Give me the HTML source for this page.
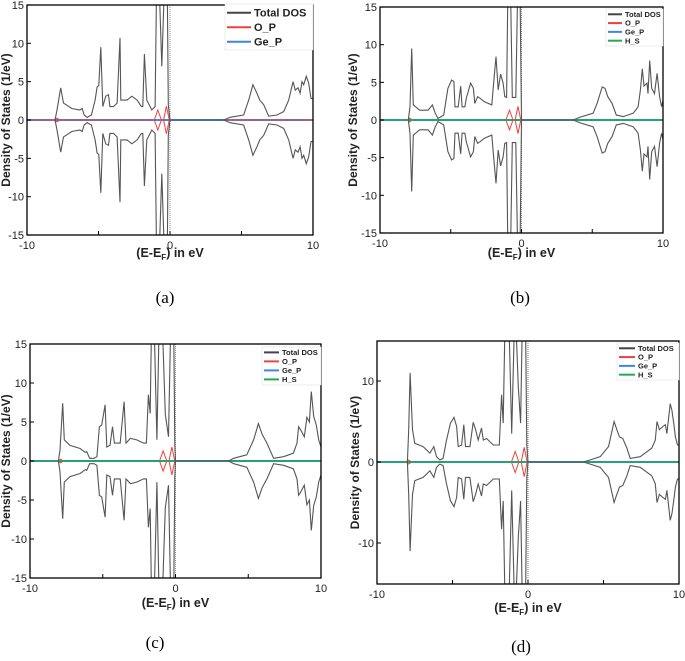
<!DOCTYPE html>
<html><head><meta charset="utf-8"><style>
body{margin:0;background:#fff;}
svg{display:block;font-family:"Liberation Sans",sans-serif;}
</style></head><body>
<svg id="fig" width="685" height="661" viewBox="0 0 685 661"></svg>
<script>
// ---- data (energy in eV, DOS in states/eV; spin-down mirrored) ----
const aE=[-8.04,-7.9,-7.64,-7.45,-6.87,-6.3,-6.15,-6.0,-5.8,-5.5,-5.24,-5.1,-4.98,-4.84,-4.7,-4.5,-4.3,-4.2,-3.95,-3.7,-3.5,-3.44,-3.0,-2.67,-2.3,-2.0,-1.9,-1.79,-1.62,-1.27,-1.04,-0.92,-0.8,-0.57,-0.35,-0.2,-0.12,0,3.75,4.2,5.15,5.5,5.8,6.08,6.27,6.55,6.9,7.48,7.95,8.3,8.6,8.76,8.95,9.1,9.23,9.35,9.53,9.7,9.86,10];
const aD=[0,1.3,4.2,2.2,1.5,1.3,1.5,0.65,0.35,0.65,2.6,4.3,4.5,9.5,1.75,3.1,3.3,1.75,1.75,2.2,10.7,2.6,2.6,3.1,2.6,1.75,1.75,8.6,2.6,1.3,1.75,20,20,7,20,20,2,0,0,0.35,0.65,2.6,4.6,3.5,2.6,2,0.5,0.65,1.1,2.6,5.0,3.9,4.2,3.5,5.0,4.6,5.7,4.8,2.8,2.8];
const bE=[-8,-7.88,-7.76,-7.65,-7.2,-6.6,-6.3,-6.1,-5.9,-5.5,-5.2,-4.94,-4.78,-4.7,-4.47,-4.3,-4.2,-4.0,-3.9,-3.6,-3.4,-3.3,-3.1,-2.94,-2.6,-2.1,-1.95,-1.8,-1.65,-1.48,-1.3,-1.18,-1.05,-0.95,-0.8,-0.65,-0.4,-0.25,-0.12,0,3.65,4.1,5.06,5.34,5.7,5.9,6.1,6.4,6.7,7.2,7.9,8.24,8.4,8.54,8.66,8.87,8.94,9.06,9.2,9.4,9.58,9.76,9.9,10];
const bD=[0,1.75,9.5,2,1.3,1.3,2,0.9,0.2,0.65,4.2,5.3,5.1,1.75,1.75,4.5,1.75,1.75,2.9,4.9,4.2,2.2,3.1,2.9,2.4,2,5.3,8.4,4,6.1,4.9,3.1,3,20,20,3,3,20,20,0,0,0.35,0.9,2.2,4.4,4.2,3.1,2.2,0.65,0.45,0.9,1.75,4.0,6.8,4.5,4.9,3.5,7.9,4.2,3.5,6.2,3.1,1.75,2.6];
const cE=[-8.05,-7.94,-7.75,-7.64,-7.25,-6.56,-6.2,-6.1,-5.9,-5.6,-5.4,-5.23,-5.07,-4.84,-4.72,-4.5,-4.33,-4.2,-3.8,-3.53,-3.4,-3.1,-2.66,-2.2,-2.0,-1.86,-1.74,-1.63,-1.5,-1.28,-1.1,-0.95,-0.7,-0.48,-0.3,-0.14,-0.05,0,3.65,4.0,4.9,5.37,5.7,5.94,6.1,6.28,6.74,7.43,8.1,8.35,8.46,8.6,8.85,9.03,9.2,9.33,9.5,9.68,9.84,10];
const cD=[0,1.4,7.4,2.7,2,1.6,1.1,1.2,0.35,0.35,0.55,4.4,4.6,7.2,1.8,2,4.4,2.3,2.3,7.6,2.3,2.9,2.7,2.3,2.3,8.5,6.1,20,20,2.7,20,20,6,3.1,20,20,2,0,0,0.35,0.8,2.7,4.8,3.5,2.9,2.3,0.35,0.55,1,2.3,4.4,4,3.1,5.6,5,8.9,5.7,4.6,2.7,1.8];
const dE=[-7.99,-7.9,-7.81,-7.65,-7.5,-6.95,-6.5,-6.24,-6.06,-5.84,-5.62,-5.4,-5.13,-4.9,-4.73,-4.62,-4.4,-4.25,-4.14,-3.85,-3.63,-3.47,-3.3,-3.08,-2.96,-2.74,-2.3,-1.9,-1.75,-1.64,-1.5,-1.3,-1.08,-0.86,-0.64,-0.49,-0.35,-0.18,-0.08,0,3.67,4.1,4.78,5.33,5.7,5.88,6.06,6.28,6.55,6.77,7.43,8.2,8.43,8.54,8.7,8.94,9.1,9.2,9.42,9.53,9.65,9.76,9.9,10];
const dD=[0,4,11,4,2.3,1.9,1.1,1.9,0.65,0.25,0.45,2.7,4.8,5.5,4.4,1.9,2.1,4.6,1.9,1.9,4.9,4,2.7,4.2,2.7,2.9,2.1,2.1,8.3,4.8,20,20,3.5,20,9.3,4.8,20,20,2,0,0,0.25,0.65,1.9,5,4,3.1,2.9,1.7,0.45,0.65,1.7,2.7,5,4,4.4,4.6,3.5,7.2,6.4,4.8,3.1,2.1,2.1];
const opE=[-10,-8.1,-7.9,-7.7,-1.1,-0.85,-0.6,-0.45,-0.25,-0.05,10];
const opD=[0,0,0.25,0,0,1.3,0,0,1.8,0,0];
const yTicksA=[15,10,5,0,-5,-10,-15];
const yTicksD=[10,0,-10];
const xTicks=[-10,0,10];
const legendA=["Total DOS","O_P","Ge_P"];
const legendB=["Total DOS","O_P","Ge_P","H_S"];

const NS="http://www.w3.org/2000/svg";
const svg=document.getElementById('fig');
function mk(tag,attrs,parent){const e=document.createElementNS(NS,tag);for(const k in attrs)e.setAttribute(k,attrs[k]);(parent||svg).appendChild(e);return e;}
const colors=["#444","#f04040","#3a86e8","#22aa55"];

function panel(id,cfg,E,D,yticks,legend){
  const g=mk('g',{});
  
  
  const X=v=>cfg.l+(v+10)/20*(cfg.r-cfg.l);
  const Y=v=>cfg.y0-v*cfg.s;
  const cp=mk('clipPath',{id:'cp'+id},g);
  mk('rect',{x:cfg.l,y:cfg.t,width:cfg.r-cfg.l,height:cfg.b-cfg.t},cp);
  const plot=mk('g',{'clip-path':'url(#cp'+id+')'},g);
  const fl=mk('line',{x1:X(0),x2:X(0),y1:cfg.t,y2:cfg.b,stroke:'#888','stroke-dasharray':'1,1','stroke-width':1},plot);
  
  
  const path=(xs,ys,sgn)=>xs.map((e,i)=>(i?'L':'M')+X(e).toFixed(1)+','+Y(sgn*ys[i]).toFixed(1)).join('');
  const ge=mk('line',{x1:cfg.l,x2:cfg.r,y1:Y(0),y2:Y(0),stroke:colors[2],'stroke-width':2},plot);
  
  
  [1,-1].forEach(sg=>{
    const p=mk('path',{d:path(opE,opD,sg),fill:'none',stroke:colors[1],'stroke-width':1},plot);
    
    
  });
  if(legend.length>3){
    const h=mk('line',{x1:cfg.l,x2:cfg.r,y1:Y(0),y2:Y(0),stroke:colors[3],'stroke-width':1.5},plot);
    
    
  }
  [1,-1].forEach(sg=>{
    const p=mk('path',{d:path(E,D,sg),fill:'none',stroke:'#555','stroke-width':1.1},plot);
    
    
  });
  const fr=mk('rect',{x:cfg.l,y:cfg.t,width:cfg.r-cfg.l,height:cfg.b-cfg.t,fill:'none',stroke:'#000','stroke-width':1.3},g);
  
  
  yticks.forEach(v=>{
    mk('line',{x1:cfg.l,x2:cfg.l+4,y1:Y(v),y2:Y(v),stroke:'#000'},g);
    const t=mk('text',{x:cfg.l-3,y:Y(v)+4,'text-anchor':'end','font-size':cfg.fs,fill:'#222'},g);
    t.textContent=v;
    
    
  });
  xTicks.forEach(v=>{
    const t=mk('text',{x:X(v),y:cfg.b+14,'text-anchor':'middle','font-size':cfg.fs,fill:'#222'},g);
    t.textContent=v;
    
    
  });
  [-5,0,5].forEach(v=>mk('line',{x1:X(v),x2:X(v),y1:cfg.b,y2:cfg.b-4,stroke:'#000'},g));
  const yt=mk('text',{x:0,y:0,transform:`translate(${cfg.ytx},${(cfg.t+cfg.b)/2}) rotate(-90)`,'text-anchor':'middle','font-size':12,'font-weight':'bold',fill:'#222'},g);
  yt.textContent='Density of States (1/eV)';
  
  
  const xt=mk('text',{x:(cfg.l+cfg.r)/2,y:cfg.xty,'text-anchor':'middle','font-size':12.5,'font-weight':'bold',fill:'#222'},g);
  xt.innerHTML='(E-E<tspan font-size="8" dy="3">F</tspan><tspan dy="-3">) in eV</tspan>';
  
  
  const lg=mk('g',{},g);
  
  
  mk('rect',{x:cfg.lx,y:cfg.ly,width:cfg.r-cfg.lx,height:cfg.lh,fill:'#fff',stroke:'#ddd','stroke-width':0.5},lg);
  legend.forEach((name,i)=>{
    const yy=cfg.ly+cfg.lstep*(i+0.6);
    mk('line',{x1:cfg.lx+2,x2:cfg.lx+2+cfg.lw,y1:yy,y2:yy,stroke:colors[i],'stroke-width':2},lg);
    const t=mk('text',{x:cfg.lx+5+cfg.lw,y:yy+cfg.lfs*0.35,'font-size':cfg.lfs,'font-weight':'bold',fill:'#222'},lg);
    t.textContent=name;
    
    
  });
  const cap=mk('text',{x:cfg.cx,y:cfg.cy,'text-anchor':'middle','font-size':17,'font-family':'Liberation Serif, serif',fill:'#000'},g);
  cap.textContent='('+id+')';
  
  
}
panel('a',{l:27,r:313,t:5,b:235,y0:120,s:7.67,fs:11,ytx:10,xty:257,lx:225,ly:4,lh:46,lstep:14.5,lw:24,lfs:11,cx:165,cy:303},aE,aD,yTicksA,legendA);
panel('b',{l:380,r:663,t:7,b:233,y0:120,s:7.53,fs:11,ytx:357,xty:257,lx:606,ly:9,lh:37,lstep:8.8,lw:14,lfs:7.5,cx:520,cy:303},bE,bD,yTicksA,legendB);
panel('c',{l:30,r:321,t:344,b:578,y0:461,s:7.8,fs:11,ytx:10,xty:607,lx:262,ly:347,lh:38,lstep:9,lw:15,lfs:7.5,cx:155,cy:648},cE,cD,yTicksA,legendB);
panel('d',{l:377,r:679,t:341,b:584,y0:462,s:8.1,fs:11,ytx:359,xty:612,lx:617,ly:343,lh:37,lstep:8.8,lw:16,lfs:7.5,cx:521,cy:652},dE,dD,yTicksD,legendB);
</script>
</body></html>
